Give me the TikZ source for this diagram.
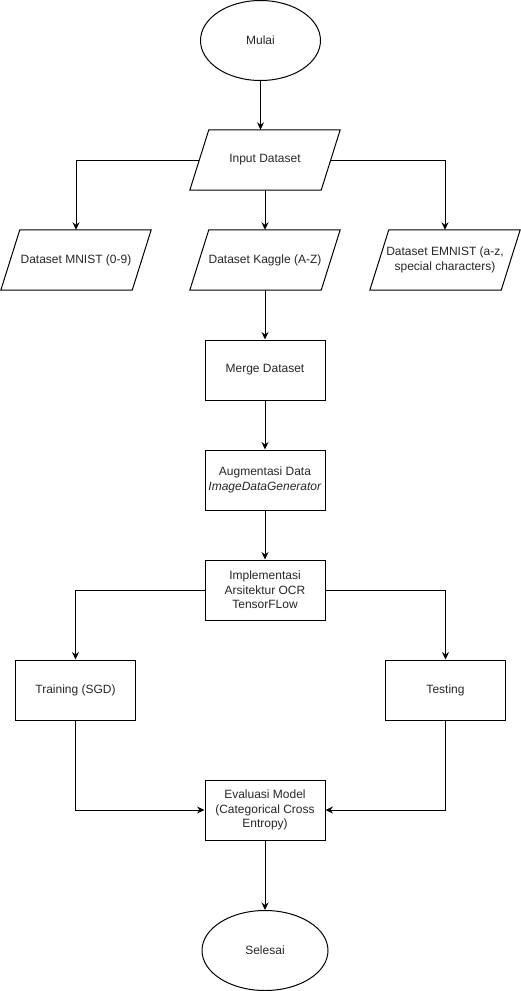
\documentclass[tikz,border=0pt]{standalone}
\usepackage{fontspec}
\setmainfont{Liberation Sans}
\usetikzlibrary{arrows.meta,shapes.geometric}
\definecolor{txt}{HTML}{262626}
\begin{document}
\begin{tikzpicture}[x=1pt,y=-1pt,
  lbl/.style={font=\fontsize{12}{14.6}\selectfont, text=txt, align=center, inner sep=0pt},
  box/.style={lbl, draw, line width=1pt, minimum width=120pt, minimum height=60pt},
  term/.style={lbl, draw, ellipse, line width=1pt, minimum height=80pt},
  pio/.style={lbl, minimum width=150pt, minimum height=60pt},
  pline/.style={line width=1pt, line join=miter},
  conn/.style={line width=1pt, -{Stealth[length=7.5pt, width=7pt, inset=2.5pt]}}
]
\useasboundingbox (0,0) rectangle (521,991);

\node[term, minimum width=120pt] (mulai) at (260.5,40.5) {Mulai};
\node[pio] (input) at (265,160) {Input Dataset};
\node[pio] (mnist) at (76,260) {Dataset MNIST (0-9)};
\node[pio] (kaggle) at (265,260) {Dataset Kaggle (A-Z)};
\node[pio] (emnist) at (445,260) {Dataset EMNIST (a-z,\\ special characters)};
\node[box] (merge) at (265,370) {Merge Dataset};
\node[box] (aug) at (265,480) {Augmentasi Data\\ \textit{ImageDataGenerator}};
\node[box] (impl) at (265,590) {Implementasi\\ Arsitektur OCR\\ TensorFLow};
\node[box] (train) at (75.5,690) {Training (SGD)};
\node[box] (test) at (445.5,690) {Testing};
\node[box] (eval) at (265,810) {Evaluasi Model\\ (Categorical Cross\\ Entropy)};
\node[term, minimum width=126pt] (selesai) at (265,950.5) {Selesai};

\foreach \n in {input,mnist,kaggle,emnist}{
  \draw[pline] (\n.south west) -- ([xshift=-19pt]\n.south east) -- (\n.north east) -- ([xshift=19pt]\n.north west) -- cycle;
}

\draw[conn] (mulai.south) -- (mulai.south |- input.north);
\draw[conn] ([xshift=9.5pt]input.west) -| (mnist.north);
\draw[conn] ([xshift=-9.5pt]input.east) -| (emnist.north);
\draw[conn] (input.south) -- (kaggle.north);
\draw[conn] (kaggle.south) -- (merge.north);
\draw[conn] (merge.south) -- (aug.north);
\draw[conn] (aug.south) -- (impl.north);
\draw[conn] (impl.west) -| (train.north);
\draw[conn] (impl.east) -| (test.north);
\draw[conn] (train.south) |- (eval.west);
\draw[conn] (test.south) |- (eval.east);
\draw[conn] (eval.south) -- (selesai.north);
\end{tikzpicture}
\end{document}
